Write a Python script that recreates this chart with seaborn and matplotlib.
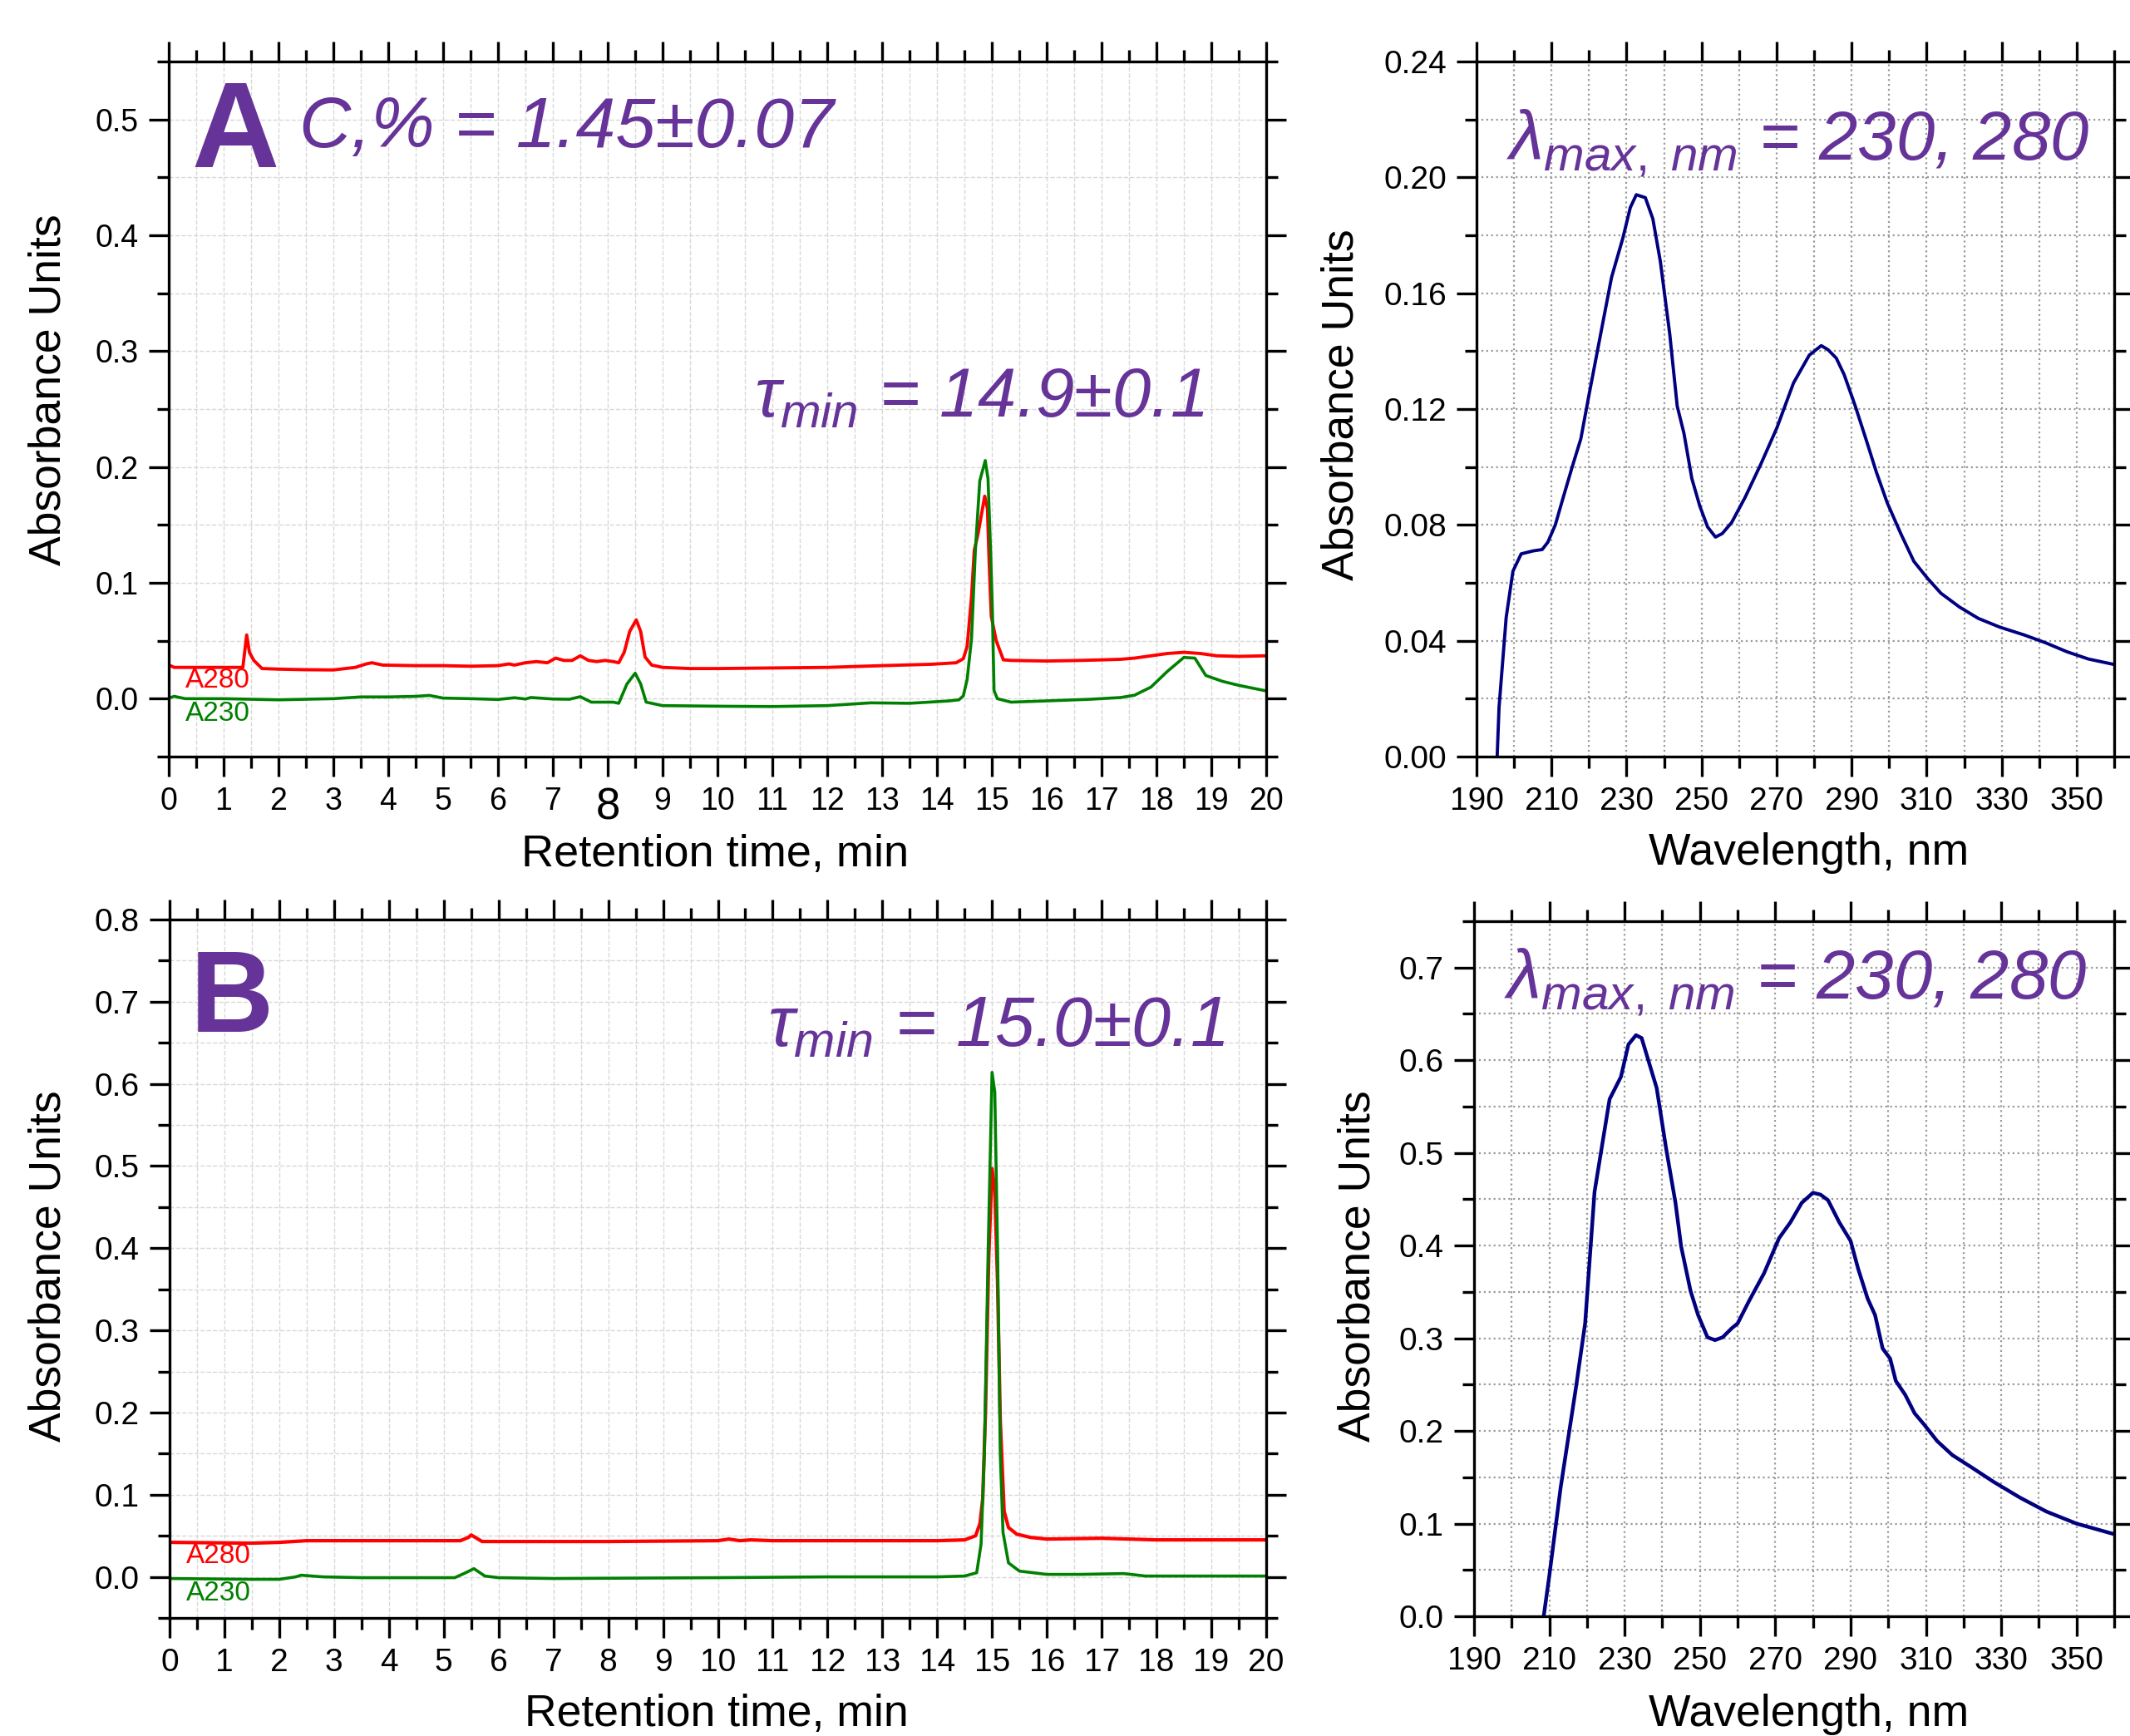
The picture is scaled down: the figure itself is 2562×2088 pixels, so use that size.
import matplotlib
matplotlib.use('Agg')
import matplotlib.pyplot as plt
from matplotlib import font_manager
from matplotlib.ticker import MultipleLocator, FormatStrFormatter
import seaborn as sns

# ---- chromatogram A (retention time, min / absorbance) ----
a280_t = [0.0, 0.1, 0.5, 1.0, 1.35, 1.42, 1.47, 1.55, 1.7, 2.0, 2.5, 3.0, 3.4, 3.6, 3.7, 3.9,
          4.5, 5.0, 5.5, 6.0, 6.2, 6.3, 6.5, 6.7, 6.9, 7.05, 7.2, 7.35, 7.5, 7.65, 7.8, 7.95,
          8.1, 8.2, 8.3, 8.4, 8.52, 8.6, 8.68, 8.8, 9.0, 9.5, 10.0, 11.0, 12.0, 13.0, 13.9,
          14.35, 14.48, 14.55, 14.63, 14.68, 14.75, 14.87, 14.92, 14.95, 14.99, 15.08, 15.21,
          15.36, 16.0, 16.6, 17.0, 17.35, 17.6, 17.9, 18.2, 18.5, 18.8, 19.1, 19.5, 20.0]
a280_v = [0.029, 0.027, 0.027, 0.027, 0.027, 0.055, 0.040, 0.033, 0.026, 0.0255, 0.025, 0.0248,
          0.027, 0.030, 0.031, 0.029, 0.0285, 0.0285, 0.028, 0.0285, 0.030, 0.029, 0.031, 0.032,
          0.031, 0.035, 0.033, 0.033, 0.037, 0.033, 0.032, 0.033, 0.032, 0.031, 0.040, 0.058,
          0.068, 0.058, 0.036, 0.029, 0.027, 0.026, 0.026, 0.0265, 0.027, 0.0285, 0.0297,
          0.031, 0.0345, 0.045, 0.088, 0.128, 0.1427, 0.1748, 0.164, 0.119, 0.071, 0.050, 0.0335,
          0.033, 0.0325, 0.033, 0.0335, 0.034, 0.035, 0.037, 0.039, 0.040, 0.039, 0.037, 0.0365, 0.037]

a230_t = [0.0, 0.1, 0.3, 1.0, 2.0, 2.5, 3.0, 3.5, 4.0, 4.5, 4.75, 5.0, 5.5, 6.0, 6.3, 6.5, 6.6,
          7.0, 7.3, 7.5, 7.7, 8.1, 8.2, 8.35, 8.5, 8.6, 8.7, 9.0, 10.0, 11.0, 12.0, 12.8, 13.5,
          14.2, 14.4, 14.48, 14.55, 14.63, 14.70, 14.78, 14.88, 14.93, 14.98, 15.01, 15.04, 15.1,
          15.35, 15.95, 16.8, 17.35, 17.6, 17.9, 18.2, 18.5, 18.7, 18.9, 19.2, 19.5, 20.0]
a230_v = [0.0005, 0.002, 0.0, 0.0, -0.001, -0.0005, 0.0, 0.0015, 0.0015, 0.002, 0.0028, 0.0005,
          0.0, -0.0007, 0.0008, -0.0003, 0.001, -0.0003, -0.0005, 0.0017, -0.003, -0.003, -0.004,
          0.0127, 0.022, 0.0127, -0.003, -0.006, -0.0065, -0.0068, -0.006, -0.0036, -0.004,
          -0.002, -0.001, 0.0024, 0.0166, 0.052, 0.128, 0.188, 0.2056, 0.190, 0.124, 0.076, 0.007,
          0.0, -0.003, -0.002, -0.0005, 0.001, 0.003, 0.010, 0.0236, 0.0356, 0.035, 0.020, 0.015,
          0.0115, 0.0067]

# ---- chromatogram B ----
b280_t = [0.0, 1.5, 2.0, 2.5, 5.3, 5.45, 5.5, 5.6, 5.7, 6.0, 8.0, 10.0, 10.2, 10.4, 10.6, 11.0,
          12.0, 13.0, 14.0, 14.5, 14.7, 14.78, 14.83, 14.88, 14.94, 15.0, 15.05, 15.1, 15.15,
          15.22, 15.3, 15.45, 15.7, 16.0, 17.0, 18.0, 19.0, 20.0]
b280_v = [0.042, 0.041, 0.042, 0.044, 0.044, 0.048, 0.051, 0.047, 0.043, 0.043, 0.043, 0.044,
          0.046, 0.044, 0.045, 0.044, 0.044, 0.044, 0.044, 0.045, 0.050, 0.065, 0.095, 0.20,
          0.39, 0.497, 0.47, 0.36, 0.19, 0.08, 0.06, 0.052, 0.048, 0.046, 0.047, 0.045, 0.045, 0.045]

b230_t = [0.0, 1.5, 2.0, 2.3, 2.4, 2.8, 3.5, 5.2, 5.4, 5.55, 5.75, 6.0, 7.0, 10.0, 12.0, 14.0,
          14.5, 14.72, 14.8, 14.86, 14.93, 15.0, 15.05, 15.1, 15.15, 15.2, 15.3, 15.5, 16.0, 16.6,
          17.4, 17.8, 20.0]
b230_v = [-0.002, -0.003, -0.003, 0.0, 0.002, 0.0, -0.001, -0.001, 0.005, 0.010, 0.001, -0.001,
          -0.002, -0.001, 0.0, 0.0, 0.001, 0.005, 0.04, 0.15, 0.40, 0.614, 0.59, 0.40, 0.15, 0.054,
          0.017, 0.007, 0.003, 0.003, 0.004, 0.001, 0.001]

# ---- UV spectra ----
specA_nm = [195.5, 196.0, 197.9, 199.7, 201.9, 205.0, 207.5, 209.0, 211.0, 213.0, 215.5, 217.8,
            220.0, 223.0, 226.0, 229.0, 231.0, 232.6, 235.0, 237.0, 239.0, 241.5, 243.5, 245.3,
            247.4, 249.5, 251.6, 253.7, 255.5, 258.0, 261.6, 265.8, 270.1, 274.5, 278.7, 281.9,
            283.7, 285.9, 288.0, 290.9, 293.8, 296.6, 299.5, 303.1, 306.6, 310.2, 313.8, 318.8,
            323.8, 329.5, 336.0, 341.7, 347.4, 353.1, 360.0]
specA_abs = [0.0, 0.017, 0.048, 0.064, 0.070, 0.071, 0.0715, 0.074, 0.080, 0.089, 0.100, 0.1097,
             0.125, 0.1453, 0.1655, 0.179, 0.1896, 0.194, 0.193, 0.1857, 0.171, 0.146, 0.121,
             0.1116, 0.096, 0.0866, 0.0793, 0.0758, 0.077, 0.0808, 0.0895, 0.101, 0.1136, 0.129,
             0.1386, 0.1419, 0.1405, 0.1376, 0.1319, 0.1213, 0.1097, 0.0982, 0.0876, 0.077, 0.0674,
             0.0616, 0.0564, 0.0516, 0.0477, 0.0447, 0.042, 0.0393, 0.0362, 0.0337, 0.0318]

specB_nm = [208.5, 210.0, 213.0, 217.0, 219.5, 222.0, 226.0, 229.0, 231.0, 233.0, 234.5, 236.5,
            238.5, 241.0, 243.5, 245.0, 247.5, 249.5, 252.0, 254.0, 256.0, 258.5, 260.0, 263.0,
            267.0, 271.0, 274.0, 277.0, 280.0, 282.0, 284.0, 287.0, 290.0, 292.0, 294.5, 296.5,
            298.5, 300.5, 302.0, 304.5, 307.0, 309.5, 313.0, 317.0, 322.0, 328.0, 335.0, 342.0,
            350.0, 360.0]
specB_abs = [0.0, 0.044, 0.139, 0.245, 0.316, 0.458, 0.558, 0.582, 0.617, 0.627, 0.624, 0.597,
             0.570, 0.505, 0.446, 0.399, 0.351, 0.325, 0.301, 0.298, 0.301, 0.311, 0.316, 0.340,
             0.370, 0.408, 0.425, 0.446, 0.457, 0.455, 0.449, 0.425, 0.405, 0.375, 0.343, 0.325,
             0.289, 0.278, 0.254, 0.239, 0.219, 0.207, 0.189, 0.174, 0.161, 0.145, 0.128, 0.113,
             0.100, 0.0886]

PURPLE = '#663399'
RED = '#ff0000'
GREEN = '#008000'
NAVY = '#000080'
PM = '\u00b1'

sns.set_style('ticks')
plt.rcParams['font.family'] = ['Liberation Sans', 'DejaVu Sans']
plt.rcParams['mathtext.fontset'] = 'custom'
plt.rcParams['mathtext.rm'] = 'Liberation Sans'
plt.rcParams['mathtext.it'] = 'Liberation Sans:italic'
plt.rcParams['mathtext.bf'] = 'Liberation Sans:bold'
for k in ('text.color', 'axes.labelcolor', 'xtick.color', 'ytick.color', 'axes.edgecolor'):
    plt.rcParams[k] = 'black'

names = {f.name for f in font_manager.fontManager.ttflist}
NARROW = 'Liberation Sans Narrow' if 'Liberation Sans Narrow' in names else 'Liberation Sans'

W, H = 2562, 2088
fig = plt.figure(figsize=(W / 100, H / 100), dpi=100)


def box(l, r, t, b):
    return [l / W, 1 - b / H, (r - l) / W, (b - t) / H]


axA = fig.add_axes(box(203, 1523, 74, 910))
axB = fig.add_axes(box(204, 1523, 1106, 1946))
axS1 = fig.add_axes(box(1776, 2543, 74, 910))
axS2 = fig.add_axes(box(1773, 2543, 1108, 1944))


def style(ax, xmaj, xmin, ymaj, ymin, fmt, lsize, family, grid_kw):
    ax.xaxis.set_major_locator(MultipleLocator(xmaj))
    ax.xaxis.set_minor_locator(MultipleLocator(xmin))
    ax.yaxis.set_major_locator(MultipleLocator(ymaj))
    ax.yaxis.set_minor_locator(MultipleLocator(ymin))
    ax.yaxis.set_major_formatter(FormatStrFormatter(fmt))
    ax.tick_params(which='both', direction='out', top=True, right=True,
                   labeltop=False, labelright=False, width=2.4, color='black',
                   labelcolor='black')
    ax.tick_params(which='major', length=17, pad=9, labelsize=lsize)
    ax.tick_params(which='minor', length=10)
    for s in ax.spines.values():
        s.set_linewidth(2.4)
        s.set_color('black')
    for lab in ax.get_xticklabels() + ax.get_yticklabels():
        lab.set_family(family)
    ax.grid(which='both', **grid_kw)
    ax.set_axisbelow(True)
    ax.set_xlabel('')
    ax.set_ylabel('')


chrom_grid = dict(color='#d8d8d8', ls='--', lw=1.0)
spec_grid = dict(color='#9a9a9a', ls=':', lw=1.6)

# ---- panel A ----
sns.lineplot(x=a280_t, y=a280_v, ax=axA, color=RED, lw=2.8)
sns.lineplot(x=a230_t, y=a230_v, ax=axA, color=GREEN, lw=2.6)
axA.set_xlim(0, 20)
axA.set_ylim(-0.05, 0.55)
style(axA, 1, 0.5, 0.1, 0.05, '%.1f', 27, NARROW, chrom_grid)
axA.set_xticks(range(21))
axA.set_xticklabels([str(i) for i in range(21)], family=NARROW, fontsize=27)
axA.get_xticklabels()[8].set_fontsize(38)
axA.text(0.3, 0.016, 'A280', color=RED, fontsize=24, family=NARROW, va='center')
axA.text(0.3, -0.013, 'A230', color=GREEN, fontsize=24, family=NARROW, va='center')
axA.text(1.21, 0.486, 'A', color=PURPLE, fontsize=105, fontweight='bold', family=NARROW,
         ha='center', va='center')
axA.text(2.38, 0.492, 'C,% = 1.45' + PM + '0.07', color=PURPLE, fontsize=62, style='italic',
         family=NARROW, ha='left', va='center')
axA.text(10.67, 0.244, r'$\tau_{min}$ = 14.9' + PM + '0.1',
         color=PURPLE, fontsize=60, style='italic', ha='left', va='baseline')

# ---- panel B ----
sns.lineplot(x=b280_t, y=b280_v, ax=axB, color=RED, lw=3.0)
sns.lineplot(x=b230_t, y=b230_v, ax=axB, color=GREEN, lw=2.6)
axB.set_xlim(0, 20)
axB.set_ylim(-0.05, 0.8)
style(axB, 1, 0.5, 0.1, 0.05, '%.1f', 28, 'Liberation Sans', chrom_grid)
axB.set_xticks(range(21))
axB.set_xticklabels([str(i) for i in range(21)], fontsize=28)
axB.text(0.3, 0.025, 'A280', color=RED, fontsize=24, va='center')
axB.text(0.3, -0.02, 'A230', color=GREEN, fontsize=24, va='center')
axB.text(1.14, 0.70, 'B', color=PURPLE, fontsize=100, fontweight='bold', ha='center', va='center')
axB.text(19.25, 0.646, r'$\tau_{min}$ = 15.0' + PM + '0.1', color=PURPLE, fontsize=61,
         style='italic', ha='right', va='baseline')

# ---- spectra ----
sns.lineplot(x=specA_nm, y=specA_abs, ax=axS1, color=NAVY, lw=2.8)
axS1.set_xlim(190, 360)
axS1.set_ylim(0, 0.24)
style(axS1, 20, 10, 0.04, 0.02, '%.2f', 28, 'Liberation Sans', spec_grid)
axS1.text(198, 0.206, r'$\lambda_{max,\ nm}$ = 230, 280', color=PURPLE, fontsize=60,
          style='italic', ha='left', va='baseline')

sns.lineplot(x=specB_nm, y=specB_abs, ax=axS2, color=NAVY, lw=3.2)
axS2.set_xlim(190, 360)
axS2.set_ylim(0, 0.75)
style(axS2, 20, 10, 0.1, 0.05, '%.1f', 28, 'Liberation Sans', spec_grid)
axS2.text(198, 0.666, r'$\lambda_{max,\ nm}$ = 230, 280', color=PURPLE, fontsize=60,
          style='italic', ha='left', va='baseline')

for ax in (axS1, axS2):
    ax.set_xticks(range(190, 351, 20))


# ---- axis titles ----
def label(x, y, s, rot=0, size=38.5, family='Liberation Sans'):
    fig.text(x / W, 1 - y / H, s, rotation=rot, fontsize=size, family=family,
             ha='center', va='center', color='black')


label(59, 469, 'Absorbance Units', 90)
label(860, 1028, 'Retention time, min', size=39, family=NARROW)
label(59, 1523, 'Absorbance Units', 90)
label(862, 2062, 'Retention time, min')
label(1614, 487, 'Absorbance Units', 90)
label(2176, 1026, 'Wavelength, nm')
label(1634, 1523, 'Absorbance Units', 90)
label(2176, 2062, 'Wavelength, nm')

fig.savefig('out.png', dpi=100)
